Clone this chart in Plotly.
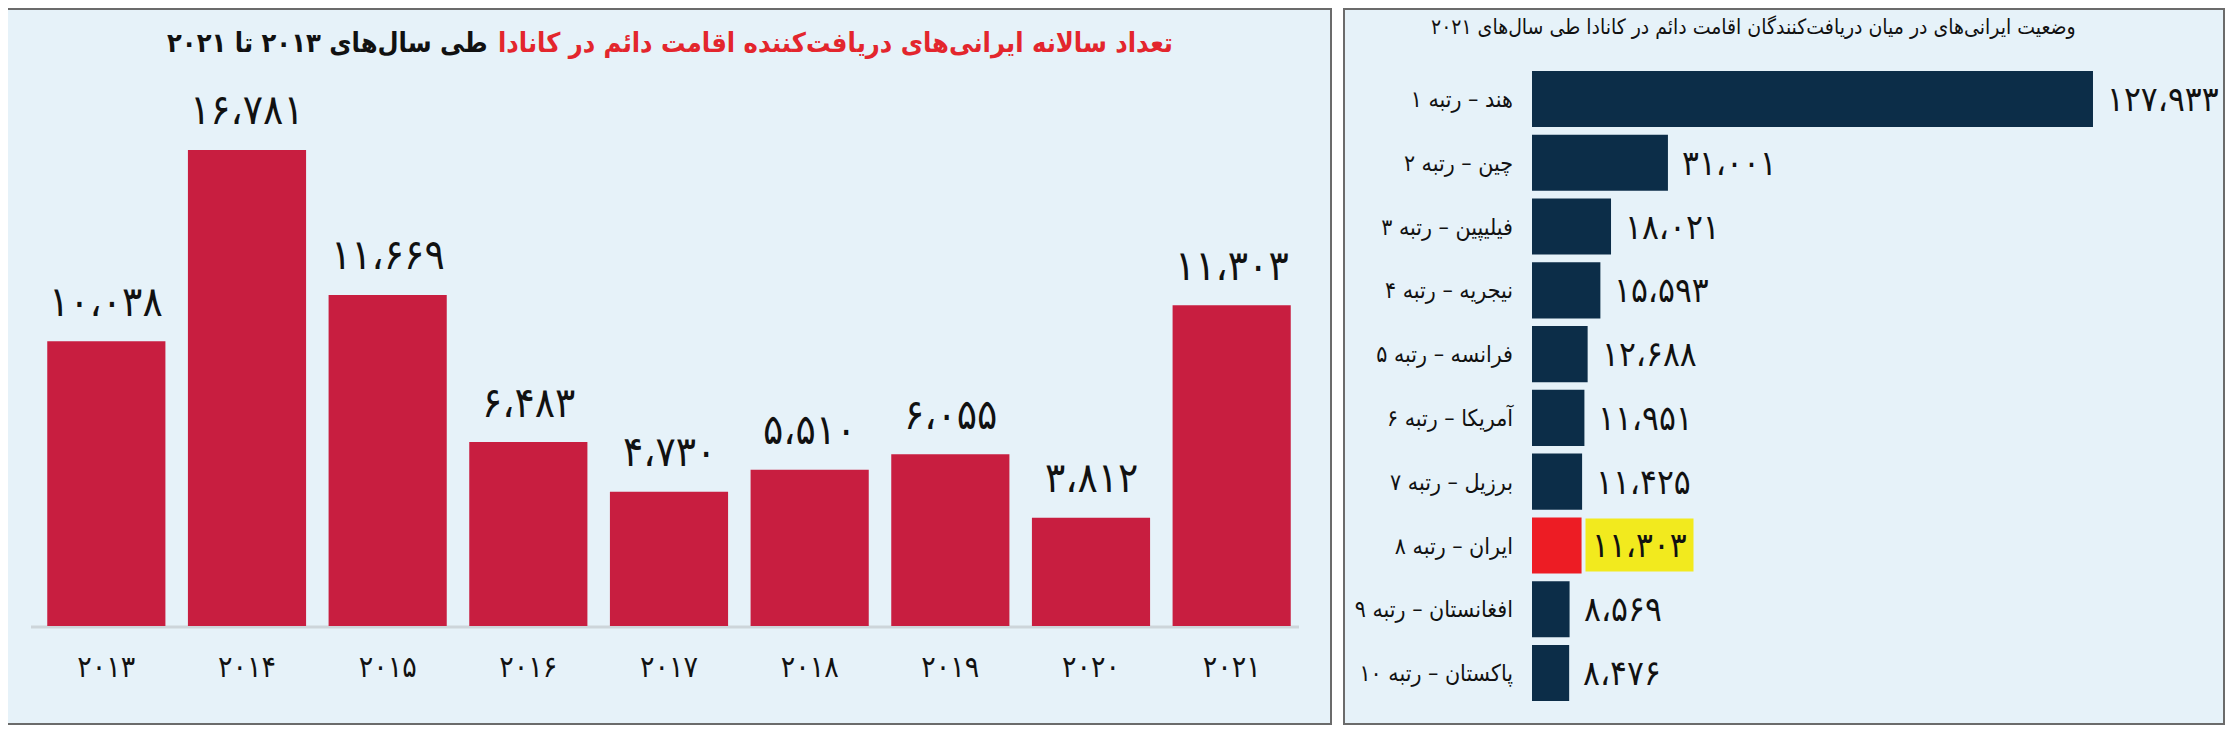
import plotly.graph_objects as go

# ---------------- data ----------------
years = [2013, 2014, 2015, 2016, 2017, 2018, 2019, 2020, 2021]
iran_counts = [10038, 16781, 11669, 6483, 4730, 5510, 6055, 3812, 11303]

countries = ["هند", "چین", "فیلیپین", "نیجریه", "فرانسه", "آمریکا", "برزیل", "ایران", "افغانستان", "پاکستان"]
ranks = [1, 2, 3, 4, 5, 6, 7, 8, 9, 10]
country_counts = [127933, 31001, 18021, 15593, 12688, 11951, 11425, 11303, 8569, 8476]
highlight_country = "ایران"

left_title_red = "تعداد سالانه ایرانی‌های دریافت‌کننده اقامت دائم در کانادا"
left_title_black = "طی سال‌های ۲۰۱۳ تا ۲۰۲۱"
right_title = "وضعیت ایرانی‌های در میان دریافت‌کنندگان اقامت دائم در کانادا طی سال‌های ۲۰۲۱"

# ---------------- helpers ----------------
FA = str.maketrans("0123456789", "۰۱۲۳۴۵۶۷۸۹")
def fa_digits(s):
    return str(s).translate(FA)
def fa_num(v):
    return fa_digits(f"{v:,}").replace(",", "،")

# page is 2233x733; the page body has an 8px margin, so the figure is inset
OFF = 8
W, H = 2233 - 2 * OFF, 733 - 2 * OFF
def px(x):
    return (x - OFF) / W
def py(y):
    return 1 - (y - OFF) / H

FONT = "DejaVu Sans Condensed, DejaVu Sans, sans-serif"
BG = "#E6F2F9"
RED = "#C81E40"
NAVY = "#0C2D48"
IRAN_RED = "#ED1C24"
YELLOW = "#F2EA1E"

year_labels = [fa_digits(y) for y in years]
country_labels = [f"{c} – رتبه {fa_digits(r)}" for c, r in zip(countries, ranks)]
bar_colors = [IRAN_RED if c == highlight_country else NAVY for c in countries]

fig = go.Figure()

fig.add_trace(go.Bar(
    x=year_labels, y=iran_counts,
    marker=dict(color=RED, line=dict(width=0)),
    xaxis="x", yaxis="y", hoverinfo="skip", showlegend=False,
))

fig.add_trace(go.Bar(
    y=country_labels, x=country_counts, orientation="h", width=0.88,
    marker=dict(color=bar_colors, line=dict(width=0)),
    xaxis="x2", yaxis="y2", hoverinfo="skip", showlegend=False,
))

# Left plot geometry: baseline y=626px, 0.02837 px per unit; x: 36..1302 px
ymax = 18000
top_px = 626 - ymax * 0.02837
# Right plot geometry: bar start 1532px, 0.004385 px/unit; rows 99..673 px
xmax2 = 145000
right_px = 1532 + xmax2 * 0.004385

fig.update_layout(
    width=W, height=H, autosize=False,
    margin=dict(l=0, r=0, t=0, b=0),
    paper_bgcolor="white", plot_bgcolor="rgba(0,0,0,0)",
    font=dict(family=FONT, color="#111111"),
    bargap=0.16,
    xaxis=dict(domain=[px(36), px(1302)], anchor="y", type="category",
               showgrid=False, zeroline=False, showline=False, ticks="",
               tickfont=dict(size=30, color="#111111", family=FONT),
               ticklabelstandoff=20),
    yaxis=dict(domain=[py(626), py(top_px)], anchor="x", range=[0, ymax],
               visible=False, showgrid=False, zeroline=False),
    xaxis2=dict(domain=[px(1532), px(right_px)], anchor="y2", range=[0, xmax2],
                visible=False, showgrid=False, zeroline=False),
    yaxis2=dict(domain=[py(673 + 31.9), py(99 - 31.9)], anchor="x2",
                type="category", autorange="reversed",
                showgrid=False, zeroline=False, showline=False, ticks="",
                tickfont=dict(size=23, color="#111111", family=FONT),
                ticklabelstandoff=18),
)

shapes = [
    dict(type="rect", xref="paper", yref="paper", x0=px(5), x1=px(1331), y0=py(724), y1=py(9),
         fillcolor=BG, line=dict(color="#6B6B6B", width=2), layer="below"),
    dict(type="rect", xref="paper", yref="paper", x0=px(1344), x1=px(2224), y0=py(724), y1=py(9),
         fillcolor=BG, line=dict(color="#6B6B6B", width=2), layer="below"),
    dict(type="line", xref="paper", yref="paper", x0=px(31), x1=px(1299), y0=py(627), y1=py(627),
         line=dict(color="#CDD5DA", width=3), layer="below"),
]
fig.update_layout(shapes=shapes)

annotations = [
    dict(xref="paper", yref="paper", x=px(1175), y=py(43), xanchor="right", yanchor="middle",
         text=f"<b>{left_title_red}</b>", showarrow=False,
         font=dict(size=27, color="#E3262D", family=FONT)),
    dict(xref="paper", yref="paper", x=px(490), y=py(43), xanchor="right", yanchor="middle",
         text=f"<b>{left_title_black}</b>", showarrow=False,
         font=dict(size=27, color="#111111", family=FONT)),
    dict(xref="paper", yref="paper", x=px(1753), y=py(27), xanchor="center", yanchor="middle",
         text=right_title, showarrow=False,
         font=dict(size=21, color="#111111", family=FONT)),
]
# left value labels
for lab, v in zip(year_labels, iran_counts):
    annotations.append(dict(xref="x", yref="y", x=lab, y=v, xanchor="center", yanchor="middle",
                            yshift=40, text=fa_num(v), showarrow=False,
                            font=dict(size=42, color="#111111", family=FONT)))
# right value labels
for c, lab, v in zip(countries, country_labels, country_counts):
    if c == highlight_country:
        annotations.append(dict(xref="x2", yref="y2", x=v, y=lab, xanchor="left", yanchor="middle",
                                xshift=3, text=fa_num(v), showarrow=False,
                                bgcolor=YELLOW, borderpad=6,
                                font=dict(size=35, color="#111111", family=FONT)))
    else:
        annotations.append(dict(xref="x2", yref="y2", x=v, y=lab, xanchor="left", yanchor="middle",
                                xshift=12, text=fa_num(v), showarrow=False,
                                font=dict(size=35, color="#111111", family=FONT)))
fig.update_layout(annotations=annotations)

fig.write_html("out.html")
